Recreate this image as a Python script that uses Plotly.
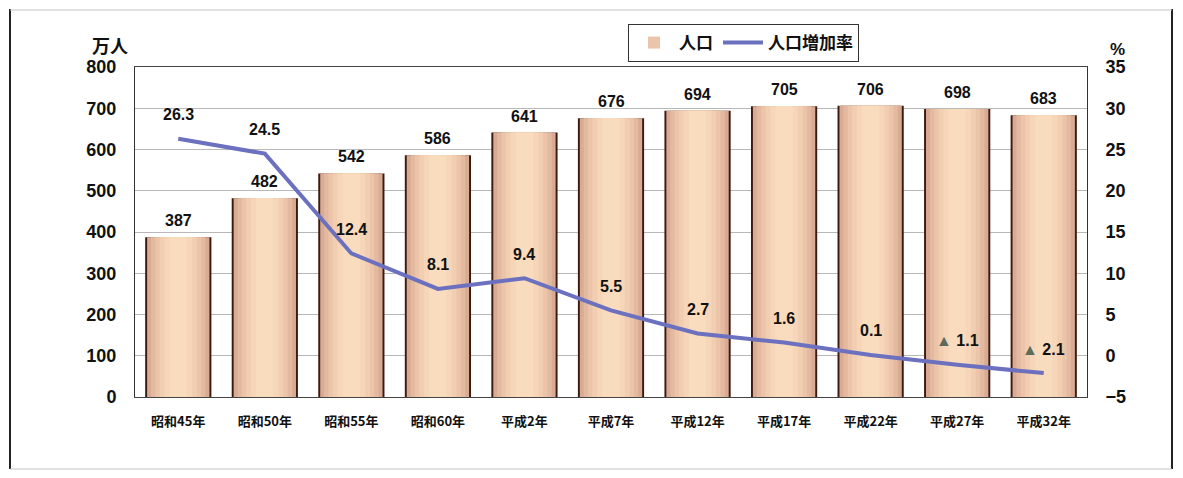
import plotly.graph_objects as go

# --- data ---
years = ["昭和45年", "昭和50年", "昭和55年", "昭和60年", "平成2年", "平成7年",
         "平成12年", "平成17年", "平成22年", "平成27年", "平成32年"]
population = [387, 482, 542, 586, 641, 676, 694, 705, 706, 698, 683]  # 万人
growth_rate = [26.3, 24.5, 12.4, 8.1, 9.4, 5.5, 2.7, 1.6, 0.1, -1.1, -2.1]  # %

# the page body has an 8px margin, so the figure is drawn 8px in from the corner
# (size trimmed so no scrollbar shows up)
OFF = 8
W, H = 1183 - 2 * OFF, 478 - 2 * OFF
L, T = 135 - OFF, 67 - OFF
R = W - (1087 - OFF)
B = H - (397 - OFF)
plot_w = W - L - R
plot_h = H - T - B

FONT = "Liberation Sans, Noto Sans CJK JP, sans-serif"
JP_FONT = "Noto Sans CJK JP, sans-serif"


def px_x(v):
    # screen pixel -> paper x
    return (v - OFF - L) / plot_w


def px_y(v):
    # screen pixel -> paper y
    return (H - B - (v - OFF)) / plot_h


# cylinder look: stacked bars, dark outline first, lighter towards the middle
layers = [
    (0.765, "#3c1a10"),
    (0.72, "#d9ab94"),
    (0.63, "#e3b9a0"),
    (0.53, "#ecc4a9"),
    (0.43, "#f2ceb1"),
    (0.32, "#f6d5b8"),
    (0.20, "#f9dbbe"),
]

fig = go.Figure()
for i, (w, col) in enumerate(layers):
    fig.add_trace(go.Bar(
        x=years, y=population, width=w,
        marker=dict(color=col, line=dict(width=0)),
        name="人口", showlegend=(i == 3), hoverinfo="skip",
    ))

fig.add_trace(go.Scatter(
    x=years, y=growth_rate, yaxis="y2", mode="lines",
    line=dict(color="#6b70bf", width=4),
    name="人口増加率",
))

annotations = []
for yr, p in zip(years, population):
    annotations.append(dict(
        x=yr, y=p, xref="x", yref="y", text=str(p), showarrow=False,
        yanchor="bottom", yshift=6,
        font=dict(family=FONT, size=16, color="#111", weight="bold"),
    ))
for yr, g in zip(years, growth_rate):
    if g < 0:
        txt = "<span style='color:#5d6b5d'>▲</span> " + f"{abs(g):.1f}"
    else:
        txt = f"{g:.1f}"
    annotations.append(dict(
        x=yr, y=g, xref="x", yref="y2", text=txt, showarrow=False,
        yanchor="middle", yshift=24,
        font=dict(family=FONT, size=16, color="#111", weight="bold"),
    ))

annotations.append(dict(
    x=px_x(110), y=px_y(45), xref="paper", yref="paper",
    xanchor="center", yanchor="middle",
    text="万人", showarrow=False,
    font=dict(family=JP_FONT, size=18, color="#111", weight="bold"),
))
annotations.append(dict(
    x=px_x(1117), y=px_y(49), xref="paper", yref="paper",
    xanchor="center", yanchor="middle",
    text="%", showarrow=False,
    font=dict(family=FONT, size=17, color="#111", weight="bold"),
))

# outer frame of the figure
shapes = [
    dict(type="line", xref="paper", yref="paper", x0=px_x(10), x1=px_x(10),
         y0=px_y(9), y1=px_y(469), line=dict(color="#222", width=2)),
    dict(type="line", xref="paper", yref="paper", x0=px_x(1172), x1=px_x(1172),
         y0=px_y(9), y1=px_y(469), line=dict(color="#222", width=2)),
    dict(type="line", xref="paper", yref="paper", x0=px_x(10), x1=px_x(1172),
         y0=px_y(10), y1=px_y(10), line=dict(color="#c4c4c4", width=1)),
    dict(type="line", xref="paper", yref="paper", x0=px_x(10), x1=px_x(1172),
         y0=px_y(469), y1=px_y(469), line=dict(color="#c4c4c4", width=1)),
]

fig.update_layout(
    width=W, height=H,
    margin=dict(l=L, r=R, t=T, b=B),
    paper_bgcolor="white", plot_bgcolor="white",
    barmode="overlay",
    font=dict(family=FONT, color="#111"),
    xaxis=dict(
        showline=True, mirror=True, linecolor="#444", linewidth=1,
        showgrid=False, ticks="", ticklabelstandoff=12,
        tickfont=dict(family=JP_FONT, size=13, color="#111", weight="bold"),
    ),
    yaxis=dict(
        range=[0, 800], dtick=100, showline=True, linecolor="#333",
        showgrid=True, gridcolor="#b8b8b8", gridwidth=1, zeroline=False,
        ticks="", ticklabelstandoff=14,
        tickfont=dict(family=FONT, size=18, color="#111", weight="bold"),
    ),
    yaxis2=dict(
        range=[-5, 35], dtick=5, overlaying="y", side="right",
        showline=True, linecolor="#333", showgrid=False, zeroline=False,
        ticks="", ticklabelstandoff=14,
        tickfont=dict(family=FONT, size=18, color="#111", weight="bold"),
    ),
    legend=dict(
        orientation="h", x=px_x(628), y=px_y(24), xanchor="left", yanchor="top",
        bordercolor="#333", borderwidth=1, bgcolor="white",
        font=dict(family=JP_FONT, size=17, color="#111", weight="bold"),
        itemwidth=40,
    ),
    annotations=annotations,
    shapes=shapes,
)

fig.write_html("out.html")
